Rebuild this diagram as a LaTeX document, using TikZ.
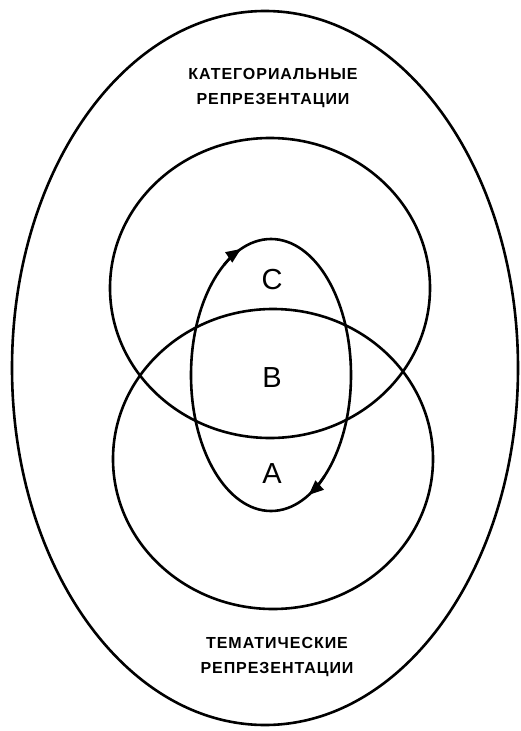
\documentclass[tikz,border=0pt]{standalone}
\usepackage{fontspec}
\setmainfont{Liberation Sans}
\usetikzlibrary{arrows.meta}
\begin{document}
\begin{tikzpicture}[x=1pt,y=-1pt,
  ring/.style={draw=black, line width=2.6pt},
  lbl/.style={font=\fontsize{29}{31}\selectfont, inner sep=0pt},
  caption/.style={font=\fontsize{16}{25}\selectfont\bfseries\addfontfeature{LetterSpace=6}, align=center, inner sep=0pt},
  tip/.style={line width=2.6pt, -{Triangle[length=15pt,width=12pt]}}]
\useasboundingbox (0,0) rectangle (520,731);
% outer ellipse
\draw[ring] (265,368) ellipse [x radius=253, y radius=357];
% upper and lower ellipses
\draw[ring] (270,288) ellipse [x radius=160, y radius=150];
\draw[ring] (273,459) ellipse [x radius=160, y radius=150];
% inner ellipse
\coordinate (ic) at (271,375);
\draw[ring] (ic) ellipse [x radius=80, y radius=136];
% arrowheads on the inner ellipse (clockwise)
\draw[tip] ([shift={(234:80 and 136)}]ic) arc [start angle=234, end angle=248, x radius=80, y radius=136];
\draw[tip] ([shift={(48:80 and 136)}]ic) arc [start angle=48, end angle=62, x radius=80, y radius=136];
% labels
\node[lbl] (C) at (272,280) {C};
\node[lbl] (B) at (272,378) {B};
\node[lbl] (A) at (272,474) {A};
\node[caption] (top) at (273,88) {КАТЕГОРИАЛЬНЫЕ\\РЕПРЕЗЕНТАЦИИ};
\node[caption] (bot) at (277,657) {ТЕМАТИЧЕСКИЕ\\РЕПРЕЗЕНТАЦИИ};
\end{tikzpicture}
\end{document}
